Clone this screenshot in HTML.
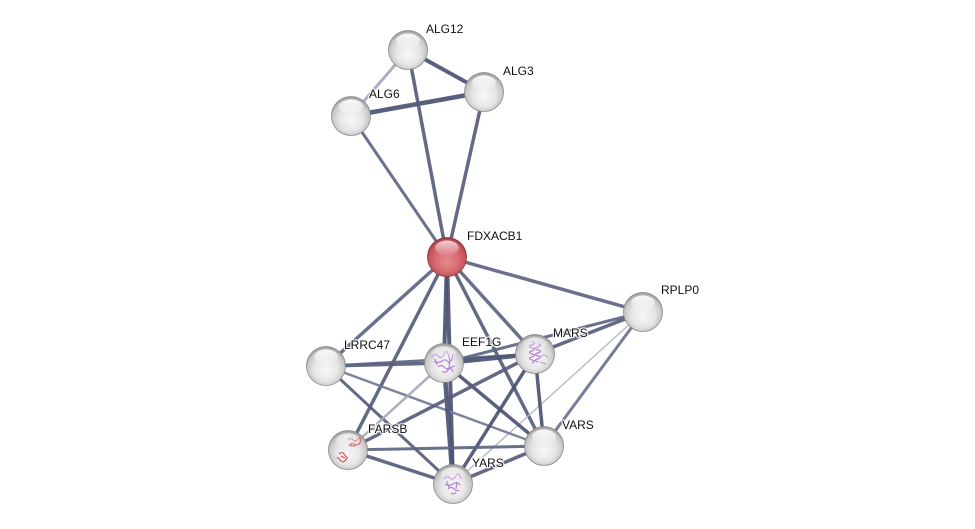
<!DOCTYPE html>
<html><head><meta charset="utf-8"><style>
html,body{margin:0;padding:0;background:#fff;}
svg{display:block;}
text{font-family:"Liberation Sans",sans-serif;font-size:12px;fill:#111;stroke:#fff;stroke-width:2.5px;stroke-opacity:0.85;paint-order:stroke;stroke-linejoin:round;}
</style></head><body>
<svg width="975" height="529" viewBox="0 0 975 529" xmlns="http://www.w3.org/2000/svg">
<defs>
<radialGradient id="g" cx="50%" cy="55%" r="55%" fx="50%" fy="62%">
<stop offset="0" stop-color="#f8f8f8"/>
<stop offset="0.55" stop-color="#e6e6e6"/>
<stop offset="0.85" stop-color="#c8c8c8"/>
<stop offset="1" stop-color="#939393"/>
</radialGradient>
<radialGradient id="r" cx="50%" cy="55%" r="55%" fx="50%" fy="62%">
<stop offset="0" stop-color="#e68a90"/>
<stop offset="0.55" stop-color="#d96a72"/>
<stop offset="0.85" stop-color="#c4525a"/>
<stop offset="1" stop-color="#8e3a40"/>
</radialGradient>
<linearGradient id="h" x1="0" y1="0" x2="0" y2="1">
<stop offset="0" stop-color="#fff" stop-opacity="0.95"/>
<stop offset="1" stop-color="#fff" stop-opacity="0.05"/>
</linearGradient>
</defs>
<g stroke-linecap="butt" fill="none" stroke-opacity="0.92">
<line x1="408" y1="50" x2="484" y2="92" stroke="#4b5372" stroke-width="4"/>
<line x1="408" y1="50" x2="351" y2="116" stroke="#a3a8bb" stroke-width="3"/>
<line x1="351" y1="116" x2="484" y2="92" stroke="#4b5372" stroke-width="4.5"/>
<line x1="408" y1="50" x2="447" y2="257" stroke="#555d7b" stroke-width="3.5"/>
<line x1="484" y1="92" x2="447" y2="257" stroke="#555d7b" stroke-width="3.5"/>
<line x1="351" y1="116" x2="447" y2="257" stroke="#5d6582" stroke-width="3"/>
<line x1="447" y1="257" x2="643" y2="312" stroke="#5d6582" stroke-width="3.5"/>
<line x1="447" y1="257" x2="326" y2="366" stroke="#5d6582" stroke-width="3.5"/>
<line x1="447" y1="257" x2="348" y2="450" stroke="#555d7b" stroke-width="3.5"/>
<line x1="447" y1="257" x2="444" y2="363" stroke="#4b5372" stroke-width="4"/>
<line x1="447" y1="257" x2="453" y2="484" stroke="#4b5372" stroke-width="4"/>
<line x1="447" y1="257" x2="535" y2="354" stroke="#5d6582" stroke-width="3.5"/>
<line x1="447" y1="257" x2="544" y2="446" stroke="#555d7b" stroke-width="3.5"/>
<line x1="643" y1="312" x2="444" y2="363" stroke="#5d6582" stroke-width="3"/>
<line x1="643" y1="312" x2="535" y2="354" stroke="#555d7b" stroke-width="3.5"/>
<line x1="643" y1="312" x2="453" y2="484" stroke="#b4b8c8" stroke-width="1.5"/>
<line x1="643" y1="312" x2="544" y2="446" stroke="#6a7290" stroke-width="3"/>
<line x1="326" y1="366" x2="444" y2="363" stroke="#555d7b" stroke-width="3.5"/>
<line x1="326" y1="366" x2="535" y2="354" stroke="#5d6582" stroke-width="2.5"/>
<line x1="326" y1="366" x2="453" y2="484" stroke="#555d7b" stroke-width="3"/>
<line x1="326" y1="366" x2="544" y2="446" stroke="#737a96" stroke-width="2.5"/>
<line x1="444" y1="363" x2="535" y2="354" stroke="#4b5372" stroke-width="4.5"/>
<line x1="444" y1="363" x2="453" y2="484" stroke="#4b5372" stroke-width="4.5"/>
<line x1="444" y1="363" x2="544" y2="446" stroke="#4b5372" stroke-width="3.5"/>
<line x1="444" y1="363" x2="348" y2="450" stroke="#a3a8bb" stroke-width="2.5"/>
<line x1="535" y1="354" x2="544" y2="446" stroke="#4b5372" stroke-width="3.5"/>
<line x1="535" y1="354" x2="453" y2="484" stroke="#4b5372" stroke-width="3.5"/>
<line x1="535" y1="354" x2="348" y2="450" stroke="#555d7b" stroke-width="3.5"/>
<line x1="348" y1="450" x2="453" y2="484" stroke="#555d7b" stroke-width="3.5"/>
<line x1="348" y1="450" x2="544" y2="446" stroke="#5d6582" stroke-width="3"/>
<line x1="453" y1="484" x2="544" y2="446" stroke="#555d7b" stroke-width="3.5"/>
</g>
<g>
<g transform="translate(408,50)"><circle r="19.5" fill="url(#g)" stroke="#8a8a8a" stroke-width="0.8"/><ellipse cx="0" cy="-9" rx="12" ry="7.5" fill="url(#h)"/></g>
<g transform="translate(484,92)"><circle r="19.5" fill="url(#g)" stroke="#8a8a8a" stroke-width="0.8"/><ellipse cx="0" cy="-9" rx="12" ry="7.5" fill="url(#h)"/></g>
<g transform="translate(351,116)"><circle r="19.5" fill="url(#g)" stroke="#8a8a8a" stroke-width="0.8"/><ellipse cx="0" cy="-9" rx="12" ry="7.5" fill="url(#h)"/></g>
<g transform="translate(447,257)"><circle r="19.5" fill="url(#r)" stroke="#8a3a40" stroke-width="0.8"/><ellipse cx="0" cy="-9" rx="12" ry="7.5" fill="url(#h)" opacity="0.8"/></g>
<g transform="translate(643,312)"><circle r="19.5" fill="url(#g)" stroke="#8a8a8a" stroke-width="0.8"/><ellipse cx="0" cy="-9" rx="12" ry="7.5" fill="url(#h)"/></g>
<g transform="translate(326,366)"><circle r="19.5" fill="url(#g)" stroke="#8a8a8a" stroke-width="0.8"/><ellipse cx="0" cy="-9" rx="12" ry="7.5" fill="url(#h)"/></g>
<g transform="translate(544,446)"><circle r="19.5" fill="url(#g)" stroke="#8a8a8a" stroke-width="0.8"/><ellipse cx="0" cy="-9" rx="12" ry="7.5" fill="url(#h)"/></g>
<g transform="translate(444,363)"><circle r="19.5" fill="url(#g)" stroke="#8a8a8a" stroke-width="0.8"/>
<path d="M-12,-6 q3,-5 6,-1 t6,-2 t5,3 t4,-3 M-10,-2 q4,3 8,0 t7,2 M-6,4 q3,-3 6,0 t6,1 t5,-2 M-2,8 q3,3 6,-1 t5,2 M-9,-4 l2,6 M6,-3 l-1,8" stroke="#b47ad6" stroke-width="1.1" fill="none"/>
<ellipse cx="0" cy="-9" rx="12" ry="7.5" fill="url(#h)" opacity="0.7"/></g>
<g transform="translate(535,354)"><circle r="19.5" fill="url(#g)" stroke="#8a8a8a" stroke-width="0.8"/>
<path d="M-3,-12 q5,1 0,3 q-5,1 0,3 q5,1 0,3 q-5,1 0,3 q5,1 0,3 q-5,1 0,3 q5,1 0,3 M3,-10 q5,1 0,3 q-5,1 0,3 q5,1 0,3 q-5,1 0,3 q5,1 0,3 q-5,1 0,3" stroke="#b47ad6" stroke-width="1.2" fill="none"/>
<path d="M6,2 q4,-3 7,2 M5,8 l6,2" stroke="#999" stroke-width="0.7" fill="none"/>
<ellipse cx="0" cy="-9" rx="12" ry="7.5" fill="url(#h)" opacity="0.6"/></g>
<g transform="translate(453,484)"><circle r="19.5" fill="url(#g)" stroke="#8a8a8a" stroke-width="0.8"/>
<path d="M-9,-5 q3,-4 6,-1 t6,-2 t5,3 M-8,0 q4,3 8,0 t7,1 M-5,5 q3,-3 6,0 t5,1 M-2,9 q3,2 5,-1 M-6,-3 l2,7 M4,-2 l-1,7" stroke="#b47ad6" stroke-width="1.1" fill="none"/>
<ellipse cx="0" cy="-9" rx="12" ry="7.5" fill="url(#h)" opacity="0.7"/></g>
<g transform="translate(348,450)"><circle r="19.5" fill="url(#g)" stroke="#8a8a8a" stroke-width="0.8"/>
<path d="M0,-10 q3,-3 5,0 t5,-1 t2,4 q-3,3 -6,1 t-5,2 M2,-5 q3,2 6,0 M-9,4 q3,-3 5,0 t3,3 t-2,4 q-3,2 -5,-1 t-3,-2 M-7,6 l4,2" stroke="#d94a4a" stroke-width="1.1" fill="none"/>
<ellipse cx="0" cy="-9" rx="12" ry="7.5" fill="url(#h)" opacity="0.7"/></g>
</g>
<g>
<text x="426" y="33">ALG12</text>
<text x="503" y="75">ALG3</text>
<text x="369" y="98">ALG6</text>
<text x="467" y="240">FDXACB1</text>
<text x="661" y="294">RPLP0</text>
<text x="344" y="349">LRRC47</text>
<text x="462" y="346">EEF1G</text>
<text x="553" y="337">MARS</text>
<text x="368" y="433">FARSB</text>
<text x="472" y="467">YARS</text>
<text x="562" y="429">VARS</text>
</g>
</svg>
</body></html>
